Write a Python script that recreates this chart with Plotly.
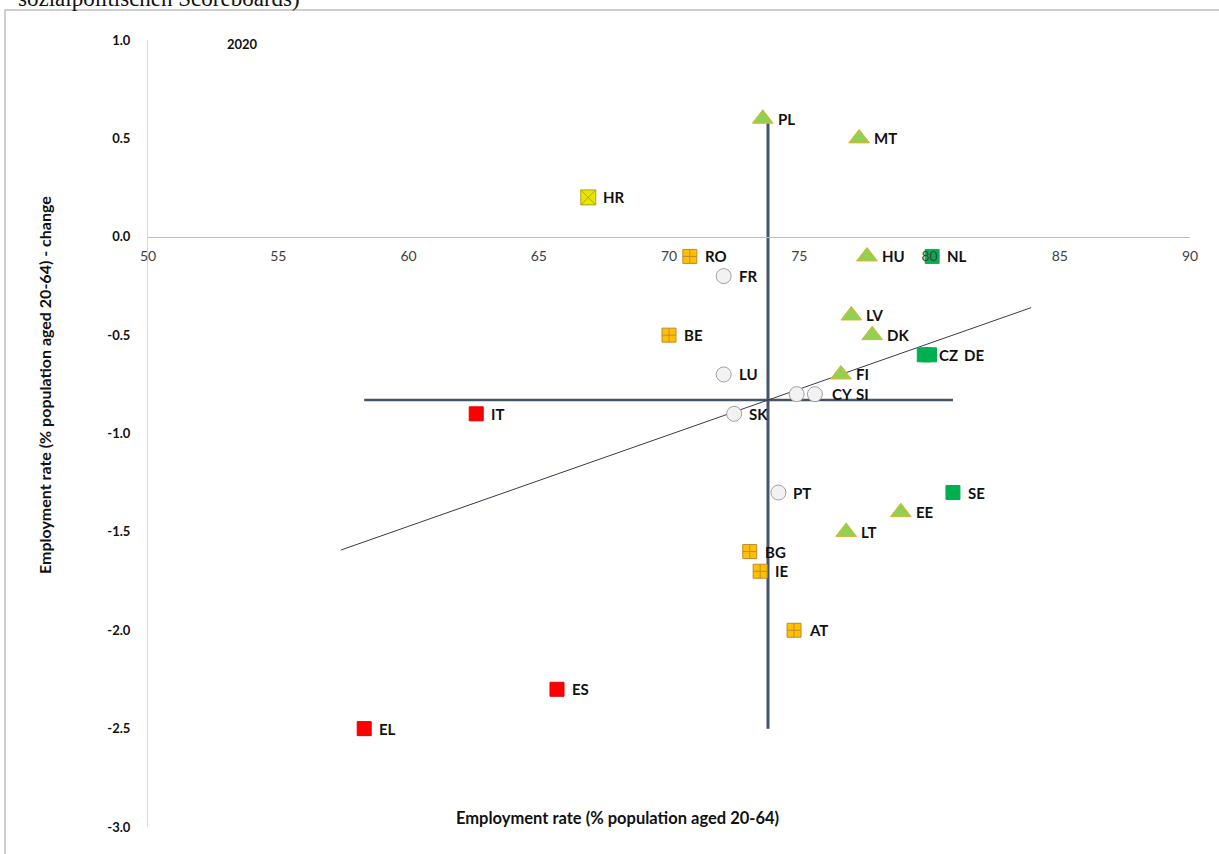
import plotly.graph_objects as go

# ---- data ----
countries = ["PL", "MT", "HR", "RO", "FR", "HU", "NL", "LV", "DK", "BE", "CZ", "DE",
             "FI", "LU", "CY", "SI", "SK", "IT", "PT", "SE", "EE", "LT", "BG", "IE",
             "AT", "ES", "EL"]
emp_rate = [73.6, 77.3, 66.9, 70.8, 72.1, 77.6, 80.1, 77.0, 77.8, 70.0, 79.8, 80.0,
            76.6, 72.1, 74.9, 75.6, 72.5, 62.6, 74.2, 80.9, 78.9, 76.8, 73.1, 73.5,
            74.8, 65.7, 58.3]
emp_change = [0.6, 0.5, 0.2, -0.1, -0.2, -0.1, -0.1, -0.4, -0.5, -0.5, -0.6, -0.6,
              -0.7, -0.7, -0.8, -0.8, -0.9, -0.9, -1.3, -1.3, -1.4, -1.5, -1.6, -1.7,
              -2.0, -2.3, -2.5]
category = ["better", "better", "weak", "watch", "avg", "better", "best", "better", "better",
            "watch", "best", "best", "better", "avg", "avg", "avg", "avg", "critical",
            "avg", "best", "better", "better", "watch", "watch", "watch", "critical", "critical"]

eu_avg_rate = 73.8
eu_avg_change = -0.83
trend_x = [57.4, 83.9]
trend_slope = 0.0465
x_ticks = [50, 55, 60, 65, 70, 75, 80, 85, 90]
y_ticks = [1.0, 0.5, 0.0, -0.5, -1.0, -1.5, -2.0, -2.5, -3.0]

# ---- styles ----
styles = {
    "best": dict(symbol="square", color="#00B050", line=dict(color="#00B050", width=1), size=14),
    "better": dict(symbol="triangle-up", color="#92D050", line=dict(color="#E0B030", width=1), size=18),
    "avg": dict(symbol="circle", color="#F2F2F2", line=dict(color="#A0A0A0", width=1), size=15),
    "watch": dict(symbol="square-cross", color="#FFC000", line=dict(color="#C08A30", width=1), size=14),
    "weak": dict(symbol="square-x", color="#E6E600", line=dict(color="#B0A020", width=1), size=15),
    "critical": dict(symbol="square", color="#FF0000", line=dict(color="#E00000", width=1), size=14),
}
label_shift = {"CY": 33, "SI": 39, "DE": 32}

fig = go.Figure()

# reference lines
ref_color = "#44546A"
fig.add_trace(go.Scatter(x=[eu_avg_rate, eu_avg_rate], y=[max(emp_change), min(emp_change)],
                         mode="lines", line=dict(color=ref_color, width=3), hoverinfo="skip",
                         showlegend=False))
fig.add_trace(go.Scatter(x=[min(emp_rate), max(emp_rate)], y=[eu_avg_change, eu_avg_change],
                         mode="lines", line=dict(color=ref_color, width=2.5), hoverinfo="skip",
                         showlegend=False))
trend_y = [eu_avg_change + trend_slope * (x - eu_avg_rate) for x in trend_x]
fig.add_trace(go.Scatter(x=trend_x, y=trend_y, mode="lines",
                         line=dict(color="#3A3A4A", width=1), hoverinfo="skip", showlegend=False))

for cat, st in styles.items():
    idx = [i for i, c in enumerate(category) if c == cat]
    fig.add_trace(go.Scatter(
        x=[emp_rate[i] for i in idx], y=[emp_change[i] for i in idx],
        mode="markers", text=[countries[i] for i in idx],
        marker=dict(symbol=st["symbol"], color=st["color"], size=st["size"], line=st["line"]),
        showlegend=False))

annotations = []
for c, x, y in zip(countries, emp_rate, emp_change):
    annotations.append(dict(x=x, y=y, xref="x", yref="y", text=c, showarrow=False,
                            xanchor="left", yanchor="middle", xshift=label_shift.get(c, 13),
                            font=dict(family="Lato", size=15, color="#111111", weight="bold")))

PW, PH, L, T = 1042, 787, 148, 40


def px(xp):
    return (xp - L) / PW


def py(yp):
    return (T + PH - yp) / PH


annotations += [
    dict(x=px(242), y=py(44), xref="paper", yref="paper", text="2020", showarrow=False,
         xanchor="center", yanchor="middle",
         font=dict(family="Lato", size=13, color="#111111", weight="bold")),
    dict(x=px(617), y=py(818), xref="paper", yref="paper",
         text="Employment rate (% population aged 20-64)", showarrow=False,
         xanchor="center", yanchor="middle",
         font=dict(family="Lato", size=16.5, color="#111111", weight="bold")),
    dict(x=px(44), y=py(385), xref="paper", yref="paper",
         text="Employment rate (% population aged 20-64) - change", showarrow=False,
         textangle=-90, xanchor="center", yanchor="middle",
         font=dict(family="Lato", size=16, color="#111111", weight="bold")),
    dict(x=px(16), y=py(13), xref="paper", yref="paper",
         text="sozialpolitischen Scoreboards)", showarrow=False,
         xanchor="left", yanchor="bottom",
         font=dict(family="Liberation Serif", size=23, color="#111111")),
]

fig.update_layout(
    width=1219, height=854,
    margin=dict(l=L, r=1219 - L - PW, t=T, b=854 - T - PH),
    paper_bgcolor="white", plot_bgcolor="white",
    annotations=annotations,
    shapes=[dict(type="rect", xref="paper", yref="paper",
                 x0=px(5), x1=px(1230), y0=py(870), y1=py(10),
                 line=dict(color="#BFBFBF", width=1.5), fillcolor="rgba(0,0,0,0)", layer="below")],
    xaxis=dict(range=[50, 90], tickvals=x_ticks, ticktext=[str(v) for v in x_ticks],
               showgrid=False, zeroline=False, showline=True, linecolor="#BFBFBF", linewidth=1,
               anchor="free", position=0.75, ticks="", ticklabelstandoff=6,
               tickfont=dict(family="Lato", size=14, color="#404040")),
    yaxis=dict(range=[-3, 1], tickvals=y_ticks, ticktext=[f"{v:.1f}" for v in y_ticks],
               showgrid=False, zeroline=False, showline=True, linecolor="#D9D9D9", linewidth=1,
               ticks="", ticklabelstandoff=14,
               tickfont=dict(family="Lato", size=13, color="#111111", weight="bold")),
)

fig.write_html("out.html", config={"displayModeBar": False},
               post_script="document.body.style.margin='0px';")
